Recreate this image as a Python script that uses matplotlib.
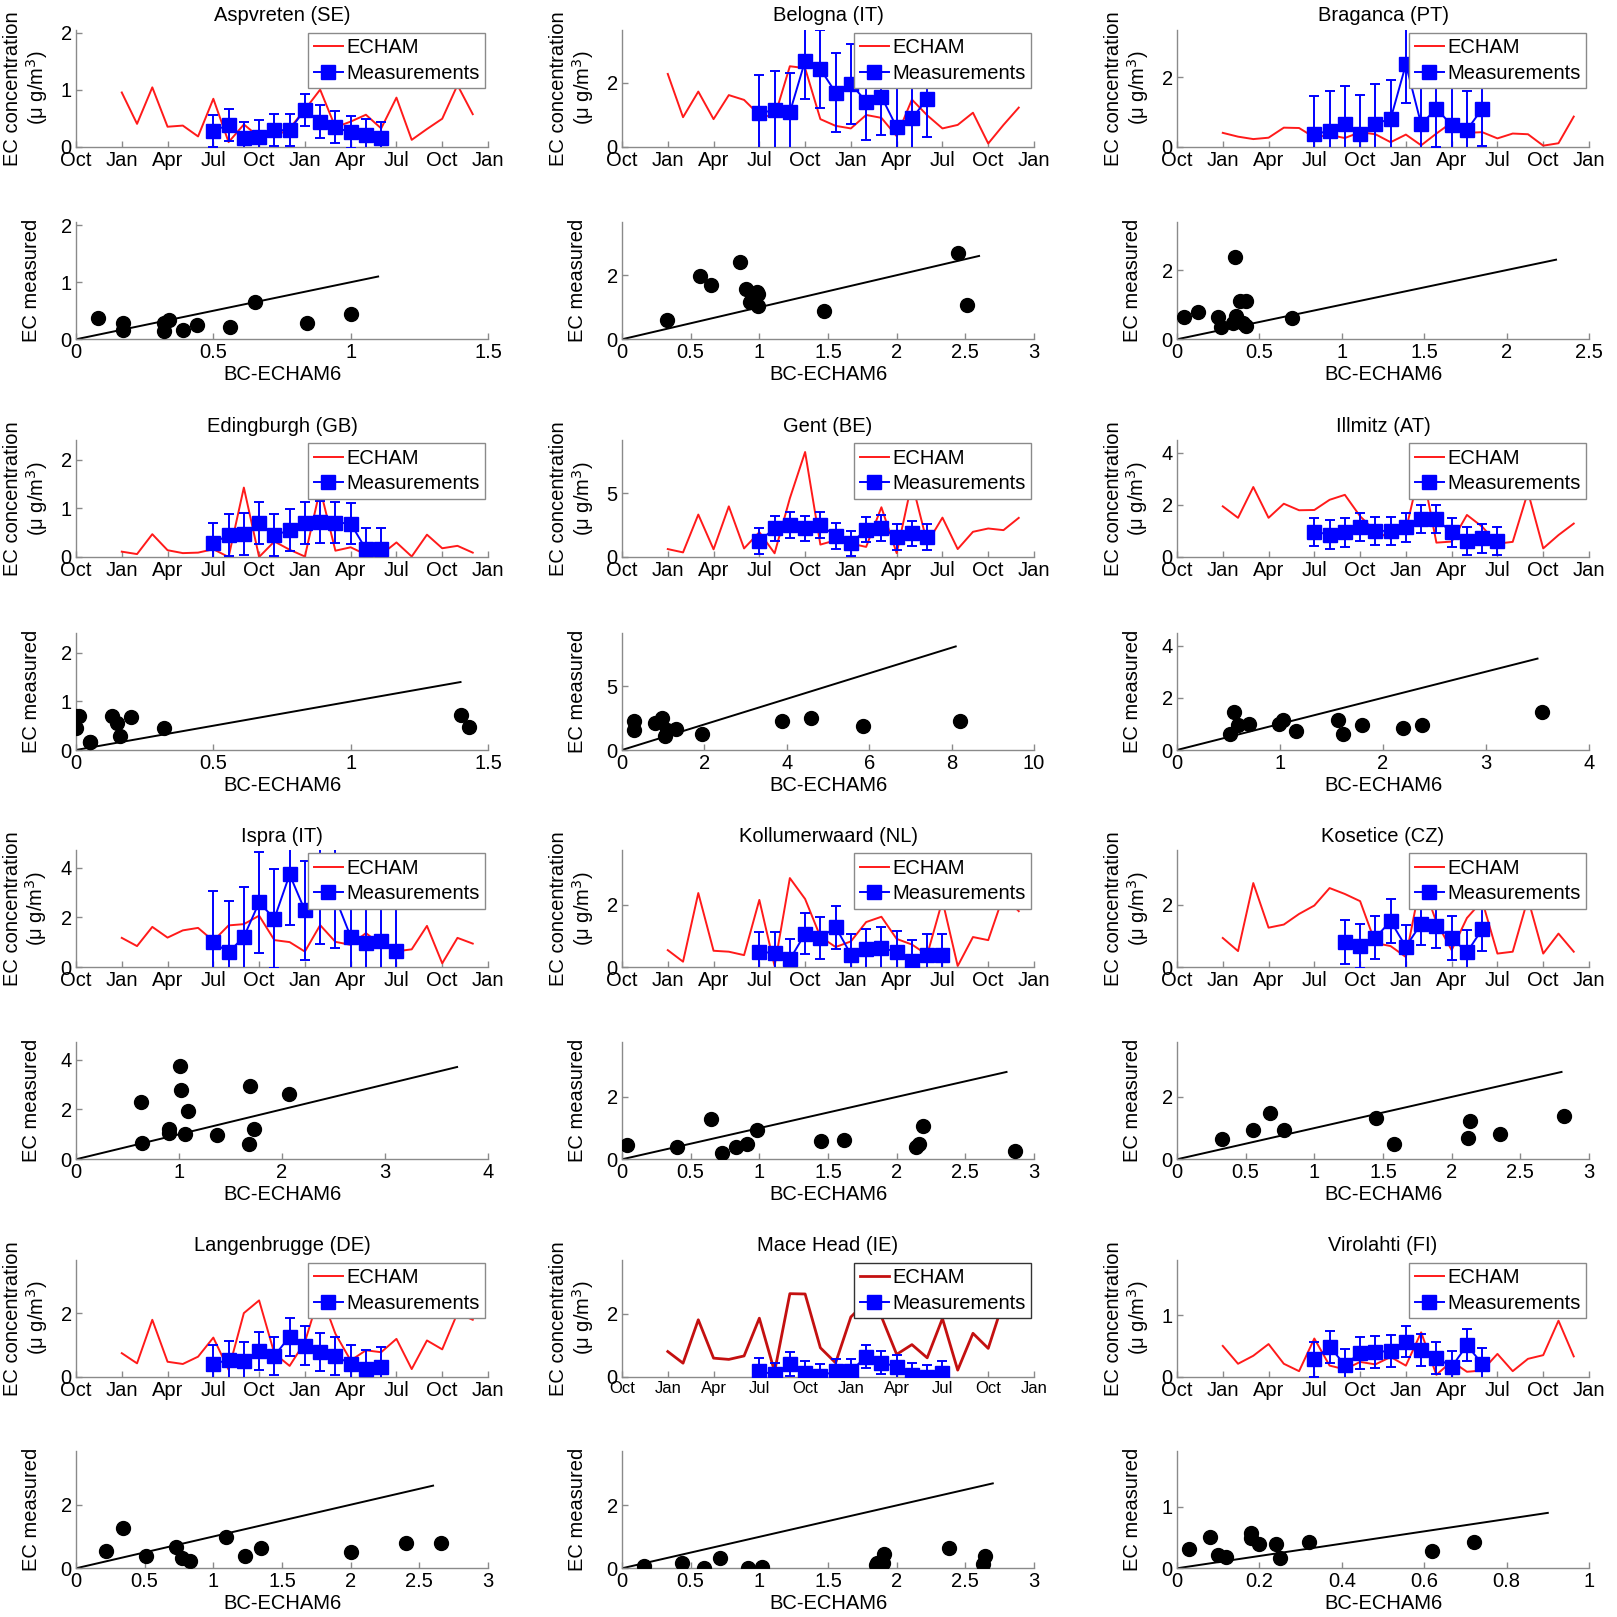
import matplotlib
matplotlib.use('Agg')
import matplotlib.pyplot as plt
from matplotlib.ticker import FuncFormatter
import numpy as np

plt.rcParams['font.family'] = ['Liberation Sans', 'DejaVu Sans']

# ---------------- data ----------------
stations = ['Aspvreten (SE)', 'Belogna (IT)', 'Braganca (PT)',
            'Edingburgh (GB)', 'Gent (BE)', 'Illmitz (AT)',
            'Ispra (IT)', 'Kollumerwaard (NL)', 'Kosetice (CZ)',
            'Langenbrugge (DE)', 'Mace Head (IE)', 'Virolahti (FI)']

month_labels = ['Oct', 'Jan', 'Apr', 'Jul', 'Oct', 'Jan', 'Apr', 'Jul', 'Oct', 'Jan']
echam_first_month = 3          # ECHAM monthly series starts in January (month index 3 after Oct)
meas_first_month = [9, 9, 9, 9, 9, 9, 9, 9, 11, 9, 9, 9]

aspvreten_echam = [0.95, 0.40, 1.04, 0.35, 0.37, 0.18, 0.84, 0.08, 0.39, 0.17, 0.17, 0.32,
                   0.65, 1.00, 0.34, 0.44, 0.56, 0.32, 0.86, 0.12, 0.31, 0.49, 1.08, 0.57]
aspvreten_meas = [0.28, 0.38, 0.16, 0.17, 0.29, 0.29, 0.65, 0.44, 0.34, 0.25, 0.21, 0.15]
aspvreten_err = [0.28, 0.28, 0.27, 0.29, 0.28, 0.28, 0.28, 0.29, 0.28, 0.28, 0.28, 0.28]

belogna_echam = [2.27, 0.92, 1.72, 0.86, 1.61, 1.46, 0.99, 0.93, 2.51, 2.45, 0.86, 0.65,
                 0.57, 0.99, 0.90, 0.33, 1.47, 0.98, 0.57, 0.68, 1.06, 0.10, 0.68, 1.22]
belogna_meas = [1.04, 1.15, 1.07, 2.68, 2.42, 1.69, 1.96, 1.41, 1.56, 0.61, 0.88, 1.49]
belogna_err = [1.20, 1.22, 1.24, 1.20, 1.22, 1.23, 1.24, 1.20, 1.20, 1.24, 1.22, 1.20]

braganca_echam = [0.40, 0.29, 0.22, 0.26, 0.55, 0.54, 0.27, 0.34, 0.25, 0.42, 0.36, 0.13,
                  0.35, 0.04, 0.38, 0.70, 0.40, 0.42, 0.24, 0.38, 0.36, 0.03, 0.10, 0.87]
braganca_meas = [0.36, 0.46, 0.65, 0.37, 0.67, 0.80, 2.38, 0.65, 1.10, 0.62, 0.48, 1.10]
braganca_err = [1.11, 1.16, 1.11, 1.12, 1.13, 1.12, 1.11, 1.08, 1.10, 1.11, 1.14, 1.08]

edingburgh_echam = [0.11, 0.06, 0.47, 0.14, 0.08, 0.09, 0.16, 0.00, 1.43, 0.00, 0.32, 0.15,
                    0.01, 1.40, 0.13, 0.20, 0.05, 0.05, 0.30, 0.01, 0.46, 0.18, 0.23, 0.09]
edingburgh_meas = [0.28, 0.46, 0.48, 0.70, 0.45, 0.55, 0.70, 0.72, 0.71, 0.69, 0.16, 0.16]
edingburgh_err = [0.43, 0.43, 0.43, 0.43, 0.43, 0.43, 0.43, 0.43, 0.43, 0.43, 0.43, 0.43]

gent_echam = [0.62, 0.36, 3.32, 0.60, 3.96, 0.67, 1.94, 0.29, 4.59, 8.21, 0.97, 1.31,
              1.05, 0.79, 3.89, 0.30, 5.84, 1.09, 3.08, 0.62, 1.97, 2.23, 2.10, 3.06]
gent_meas = [1.27, 2.23, 2.49, 2.23, 2.49, 1.66, 1.06, 2.15, 2.28, 1.58, 1.84, 1.58]
gent_err = [1.00, 0.98, 1.00, 1.00, 1.00, 1.00, 1.00, 1.00, 1.00, 1.00, 1.00, 1.00]

illmitz_echam = [1.94, 1.50, 2.68, 1.50, 2.04, 1.79, 1.80, 2.19, 2.38, 1.56, 0.99, 0.70,
                 1.03, 3.54, 0.55, 0.59, 1.61, 1.16, 0.51, 0.58, 2.49, 0.33, 0.84, 1.28]
illmitz_meas = [0.97, 0.86, 0.94, 1.16, 1.00, 1.00, 1.13, 1.47, 1.45, 0.94, 0.62, 0.71, 0.62]
illmitz_err = [0.54, 0.54, 0.54, 0.54, 0.54, 0.54, 0.54, 0.54, 0.54, 0.54, 0.54, 0.54, 0.54]

ispra_echam = [1.18, 0.85, 1.62, 1.19, 1.48, 1.58, 1.06, 1.68, 1.73, 2.07, 1.09, 1.01,
               0.63, 1.69, 1.02, 0.90, 1.37, 0.90, 0.64, 0.72, 1.66, 0.16, 1.18, 0.95]
ispra_meas = [1.00, 0.60, 1.22, 2.60, 1.95, 3.72, 2.28, 2.92, 2.78, 1.23, 0.96, 1.05, 0.65]
ispra_err = [2.05, 2.05, 2.00, 2.01, 1.98, 2.03, 2.00, 2.00, 2.00, 2.00, 2.00, 2.00, 2.00]

kollumerwaard_echam = [0.55, 0.18, 2.38, 0.53, 0.50, 0.39, 2.16, 0.04, 2.86, 2.19, 0.98, 0.65,
                       0.83, 1.45, 1.62, 0.91, 0.73, 0.40, 2.14, 0.04, 0.97, 0.87, 2.30, 1.80]
kollumerwaard_meas = [0.48, 0.47, 0.25, 1.08, 0.94, 1.29, 0.41, 0.58, 0.62, 0.50, 0.21, 0.41, 0.41]
kollumerwaard_err = [0.65, 0.65, 0.66, 0.66, 0.66, 0.69, 0.66, 0.66, 0.66, 0.66, 0.66, 0.66, 0.66]

kosetice_echam = [0.94, 0.52, 2.70, 1.27, 1.37, 1.71, 1.98, 2.54, 2.35, 2.12, 0.78, 0.68,
                  0.33, 2.82, 1.45, 0.55, 1.58, 2.13, 0.44, 0.50, 2.20, 0.44, 1.08, 0.50]
kosetice_meas = [0.81, 0.68, 0.95, 1.48, 0.66, 1.40, 1.31, 0.94, 0.48, 1.22]
kosetice_err = [0.71, 0.70, 0.70, 0.71, 0.70, 0.70, 0.70, 0.70, 0.70, 0.70]

langenbrugge_echam = [0.74, 0.42, 1.79, 0.47, 0.40, 0.63, 1.23, 0.22, 2.00, 2.40, 0.73, 0.34,
                      1.09, 2.66, 1.35, 0.51, 0.83, 0.77, 1.19, 0.24, 1.14, 0.86, 2.00, 1.79]
langenbrugge_meas = [0.40, 0.53, 0.50, 0.81, 0.66, 1.26, 0.98, 0.79, 0.65, 0.40, 0.23, 0.32]
langenbrugge_err = [0.59, 0.60, 0.60, 0.60, 0.60, 0.60, 0.60, 0.60, 0.60, 0.60, 0.60, 0.60]

macehead_echam = [0.80, 0.43, 1.81, 0.59, 0.55, 0.66, 1.86, 0.16, 2.64, 2.63, 0.92, 0.44,
                  1.90, 2.38, 1.91, 0.71, 1.02, 0.60, 1.85, 0.21, 1.38, 0.90, 2.40, 2.20]
macehead_meas = [0.18, 0.07, 0.39, 0.13, 0.02, 0.18, 0.18, 0.64, 0.45, 0.32, 0.05, 0.00, 0.11]
macehead_err = [0.41, 0.38, 0.38, 0.38, 0.38, 0.38, 0.38, 0.37, 0.38, 0.38, 0.38, 0.38, 0.38]

virolahti_echam = [0.50, 0.21, 0.34, 0.53, 0.21, 0.09, 0.62, 0.18, 0.12, 0.24, 0.20, 0.32,
                   0.18, 0.72, 0.03, 0.25, 0.08, 0.10, 0.37, 0.09, 0.29, 0.35, 0.91, 0.33]
virolahti_meas = [0.28, 0.49, 0.19, 0.39, 0.40, 0.42, 0.57, 0.43, 0.31, 0.16, 0.51, 0.21]
virolahti_err = [0.29, 0.26, 0.26, 0.26, 0.26, 0.26, 0.25, 0.26, 0.26, 0.26, 0.26, 0.26]

echam_series = [aspvreten_echam, belogna_echam, braganca_echam, edingburgh_echam, gent_echam,
                illmitz_echam, ispra_echam, kollumerwaard_echam, kosetice_echam,
                langenbrugge_echam, macehead_echam, virolahti_echam]
meas_series = [aspvreten_meas, belogna_meas, braganca_meas, edingburgh_meas, gent_meas,
               illmitz_meas, ispra_meas, kollumerwaard_meas, kosetice_meas,
               langenbrugge_meas, macehead_meas, virolahti_meas]
err_series = [aspvreten_err, belogna_err, braganca_err, edingburgh_err, gent_err,
              illmitz_err, ispra_err, kollumerwaard_err, kosetice_err,
              langenbrugge_err, macehead_err, virolahti_err]

# 1:1 reference line end (in data units) for scatter panels
one_to_one_end = [1.1, 2.6, 2.3, 1.4, 8.1, 3.5, 3.7, 2.8, 2.8, 2.6, 2.7, 0.9]

# axis settings
y_top = [2.05, 3.65, 3.38, 2.41, 9.15, 4.48, 4.69, 3.75, 3.75, 3.68, 3.72, 1.90]
y_step = [1, 2, 2, 1, 5, 2, 2, 2, 2, 2, 2, 1]
sc_xmax = [1.5, 3, 2.5, 1.5, 10, 4, 4, 3, 3, 3, 3, 1]
sc_xstep = [0.5, 0.5, 0.5, 0.5, 2, 1, 1, 0.5, 0.5, 0.5, 0.5, 0.2]

# ---------------- layout ----------------
W = 1617.0
fig = plt.figure(figsize=(W / 100, W / 100), dpi=100)
col_left = [76, 622, 1177]
ts_bottom = [146.7, 557.0, 967.3, 1376.7]
sc_bottom = [339.3, 750.0, 1159.3, 1568.3]
AX_W, AX_H = 412, 117
FS = 14.5
GREY = '#8a8a8a'
fmt = FuncFormatter(lambda v, p: '%g' % round(v, 6))


def style(ax):
    for s in ['top', 'right']:
        ax.spines[s].set_visible(False)
    for s in ['left', 'bottom']:
        ax.spines[s].set_color(GREY)
        ax.spines[s].set_linewidth(1.0)
    ax.tick_params(direction='in', length=4, width=1, color=GREY,
                   labelsize=FS, labelcolor='black', pad=3)
    ax.yaxis.set_major_formatter(fmt)
    ax.xaxis.set_major_formatter(fmt)


for i, name in enumerate(stations):
    r, c = divmod(i, 3)
    echam = np.array(echam_series[i])
    meas = np.array(meas_series[i])
    err = np.array(err_series[i])
    em = np.arange(echam_first_month, echam_first_month + len(echam))
    mm = np.arange(meas_first_month[i], meas_first_month[i] + len(meas))

    # ---- time series panel ----
    ax = fig.add_axes([col_left[c] / W, 1 - ts_bottom[r] / W, AX_W / W, AX_H / W])
    style(ax)
    special = (name == 'Mace Head (IE)')
    red = '#c41010' if special else '#ff1a1a'
    ax.plot(em, echam, color=red, lw=2.0 if special else 1.4, label='ECHAM', zorder=2)
    ax.errorbar(mm, meas, yerr=err, fmt='none', ecolor='#0000ff', elinewidth=1.4,
                capsize=3.5, capthick=1.4, zorder=3)
    ax.plot(mm, meas, color='#0000ff', lw=1.4, marker='s', ms=9.5, mfc='#0000ff',
            mec='#0000ff', label='Measurements', zorder=4)
    ax.set_xlim(0, 27)
    ax.set_ylim(0, y_top[i])
    ax.set_xticks(np.arange(0, 28, 3))
    ax.set_xticklabels(month_labels)
    ax.set_yticks(np.arange(0, y_top[i] + 1e-9, y_step[i]))
    if special:
        ax.tick_params(axis='x', labelsize=12)
    ax.set_title(name, fontsize=FS, pad=6)
    ax.set_ylabel('EC concentration\n(\u03bc g/m$^3$)', fontsize=FS, labelpad=8,
                  linespacing=1.1)
    leg = ax.legend(loc='upper right', fontsize=FS, frameon=True, fancybox=False,
                    edgecolor='#333333' if special else GREY, framealpha=1,
                    borderaxespad=0.15, borderpad=0.28, handlelength=1.45,
                    handletextpad=0.15, labelspacing=0.32)
    leg.get_frame().set_linewidth(1.0)

    # ---- scatter panel ----
    ax2 = fig.add_axes([col_left[c] / W, 1 - sc_bottom[r] / W, AX_W / W, AX_H / W])
    style(ax2)
    sx = echam[mm - echam_first_month]
    le = one_to_one_end[i]
    ax2.plot([0, le], [0, le], color='black', lw=1.4, zorder=2)
    ax2.plot(sx, meas, 'o', color='black', ms=10, zorder=3)
    ax2.set_xlim(0, sc_xmax[i])
    ax2.set_ylim(0, y_top[i])
    ax2.set_xticks(np.arange(0, sc_xmax[i] + 1e-9, sc_xstep[i]))
    ax2.set_yticks(np.arange(0, y_top[i] + 1e-9, y_step[i]))
    ax2.set_xlabel('BC-ECHAM6', fontsize=FS, labelpad=2)
    ax2.set_ylabel('EC measured', fontsize=FS, labelpad=14)

fig.savefig('out.png', dpi=100, facecolor='white')
